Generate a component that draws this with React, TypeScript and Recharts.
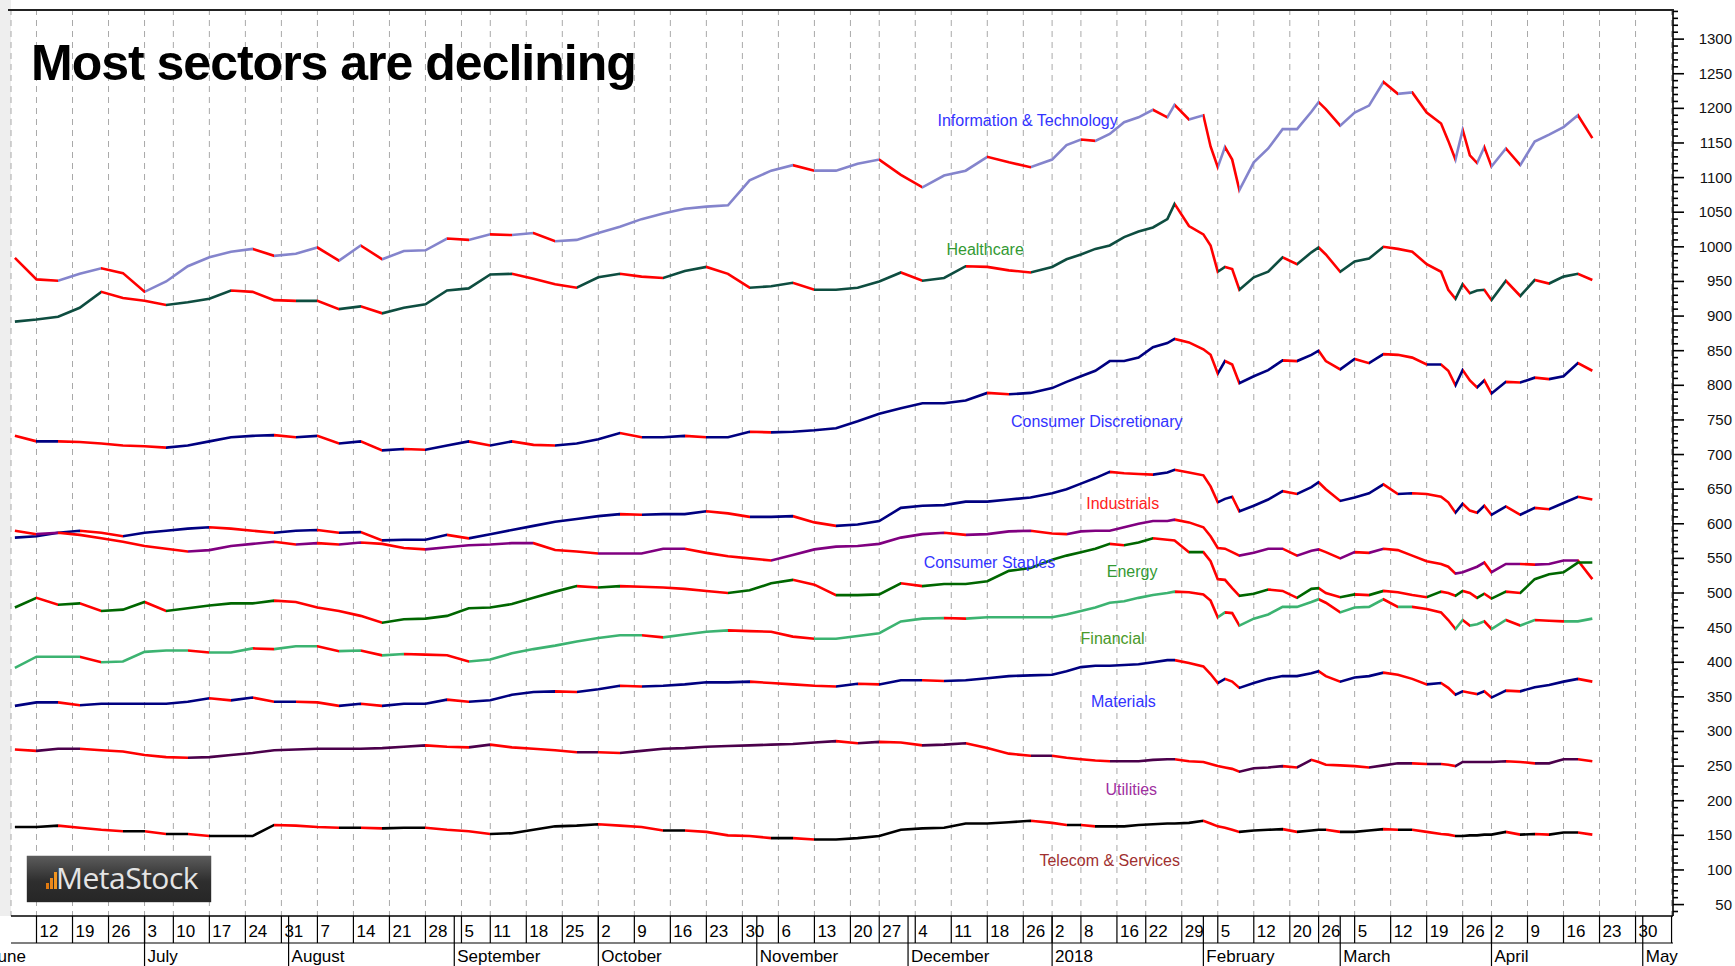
import React from "react";
import { LineChart, Line, XAxis, YAxis, CartesianGrid, ReferenceDot } from "recharts";

// trading-day index, 0 = Mon 12 Jun 2017
const days = [
  -3, 0, 3, 6, 9, 12, 15, 18, 21, 24, 27, 30, 33, 36, 39, 42, 45, 48, 51, 54, 57, 60, 63, 66, 69,
  72, 75, 78, 81, 84, 87, 90, 93, 96, 99, 102, 105, 108, 111, 114, 117, 120, 123, 126, 129, 132,
  135, 138, 141,
  143, 145, 147, 149, 151, 153, 155, 157, 158, 160, 162, 163, 164, 165, 166, 167, 169, 171, 173,
  175, 177, 178, 179, 181, 183, 185, 187, 189, 191, 193, 195, 196, 197, 198, 199, 200, 201, 202,
  204, 206, 208, 210, 212, 214, 216,
];

const infoTech = [
  984, 953, 951, 961, 969, 962, 935, 950, 972, 985, 993, 997, 987, 990, 999, 980, 1002, 982, 994,
  995, 1012, 1010, 1018, 1017, 1020, 1008, 1010, 1020, 1029, 1040, 1048, 1055, 1058, 1060, 1096,
  1110, 1118, 1110, 1110, 1120, 1126, 1104, 1086, 1103, 1110, 1130, 1122, 1115, 1126,
  1147, 1155, 1153, 1163, 1180, 1187, 1198, 1187, 1205, 1184, 1190, 1145, 1115, 1144, 1126, 1082,
  1122, 1142, 1170,
  1170, 1195, 1209, 1199, 1175, 1194, 1204, 1238, 1221, 1223, 1194, 1178, 1153, 1126, 1169, 1132,
  1121, 1144, 1116, 1142, 1118, 1152, 1162, 1173, 1190, 1157,
];
const healthcare = [
  892, 895, 899, 912, 935, 926, 922, 916, 920, 925, 937, 935, 923, 922, 922, 910, 914, 904, 912,
  917, 937, 940, 960, 961, 954, 946, 941, 956, 961, 957, 955, 965, 971, 961, 941, 943, 948, 938,
  938, 941, 950, 963, 951, 955, 972, 971, 966, 963, 971,
  982, 989, 997, 1002, 1014, 1022, 1028, 1040, 1062, 1030, 1018, 1002, 964, 971, 968, 938, 956,
  964, 985,
  975, 992, 999, 989, 964, 979, 983, 1000, 997, 993, 975, 964, 938, 925, 946, 933, 937, 938, 923,
  951, 929, 952, 947, 957, 961, 952,
];
const consDisc = [
  727, 719, 719, 718, 716, 713, 712, 710, 713, 719, 725, 727, 728, 725, 727, 716, 719, 706, 708,
  707, 713, 719, 713, 719, 714, 713, 716, 722, 731, 725, 725, 727, 725, 725, 733, 732, 733, 735,
  738, 748, 759, 767, 774, 774, 778, 789, 787, 789, 796,
  805, 813, 821, 835, 835, 840, 855, 861, 867, 862, 852, 844, 817, 835, 830, 803, 813, 822, 836,
  835, 844, 850, 835, 823, 838, 832, 845, 844, 840, 830, 830, 821, 800, 822, 807, 797, 807, 788,
  805, 804, 811, 809, 813, 832, 821,
];
const industrials = [
  580, 582, 587, 590, 587, 582, 587, 590, 593, 595, 593, 590, 587, 590, 591, 587, 588, 576, 577,
  577, 584, 579, 585, 591, 597, 603, 607, 611, 614, 613, 614, 614, 618, 615, 610, 610, 611, 602,
  597, 599, 604, 623, 626, 627, 632, 632, 635, 638, 644,
  650, 658, 666, 675, 673, 672, 671, 674, 678, 674, 670, 654, 631, 636, 639, 618, 626, 635, 647,
  643, 653, 660, 650, 633, 638, 644, 657, 643, 644, 643, 639, 631, 616, 629, 619, 616, 626, 613,
  625, 613, 623, 621, 630, 639, 635,
];
const consStaples = [
  590, 585, 587, 584, 579, 574, 568, 564, 560, 562, 568, 571, 574, 570, 572, 570, 573, 571, 565,
  563, 566, 569, 570, 572, 572, 562, 560, 557, 557, 557, 564, 564, 558, 553, 550, 547, 555, 563,
  567, 568, 571, 580, 585, 587, 584, 585, 589, 590, 586,
  585, 589, 590, 590, 595, 600, 604, 604, 606, 602, 595, 582, 565, 564, 559, 554, 558, 564, 564,
  554, 561, 563, 559, 550, 559, 558, 564, 562, 554, 546, 542, 538, 528, 530, 534, 538, 544, 530,
  542, 542, 541, 542, 547, 547, 520,
];
const energy = [
  479, 493, 483, 485, 474, 476, 487, 474, 478, 482, 485, 485, 489, 487, 479, 474, 467, 457, 462,
  463, 467, 478, 479, 484, 493, 502, 510, 508, 510, 509, 508, 506, 503, 500, 504, 514, 519, 512,
  497, 497, 498, 514, 510, 513, 513, 517, 532, 536, 548,
  554, 559, 564, 571, 569, 573, 579, 577, 576, 559, 559, 546, 520, 519, 507, 496, 499, 505, 503,
  493, 506, 507, 500, 494, 498, 497, 503, 501, 497, 494, 502, 500, 496, 503, 500, 493, 499, 492,
  502, 500, 520, 527, 530, 544, 544,
];
const financial = [
  392, 408, 408, 408, 400, 401, 415, 417, 417, 414, 414, 420, 419, 423, 423, 416, 417, 410, 412,
  411, 410, 401, 404, 413, 419, 424, 430, 435, 439, 439, 436, 440, 444, 446, 445, 444, 437, 434,
  434, 438, 442, 459, 463, 464, 463, 465, 465, 465, 465,
  469, 474, 479, 486, 488, 493, 497, 500, 502, 501, 498, 489, 465, 472, 471, 453, 463, 469, 480,
  480, 487, 491, 486, 472, 479, 480, 491, 480, 480, 477, 472, 461, 448, 461, 453, 455, 459, 448,
  461, 453, 461, 460, 459, 459, 463,
];
const materials = [
  337, 342, 342, 338, 340, 340, 340, 340, 343, 348, 345, 349, 343, 343, 342, 337, 340, 337, 340,
  340, 346, 343, 345, 353, 357, 358, 357, 361, 366, 365, 366, 368, 371, 371, 372, 370, 368, 366,
  365, 369, 368, 374, 374, 373, 374, 377, 380, 381, 382,
  387, 393, 395, 395, 396, 397, 400, 403, 403, 399, 394, 383, 370, 376, 372, 363, 370, 376, 380,
  380, 384, 387, 380, 372, 378, 380, 385, 382, 376, 368, 370, 363, 353, 358, 356, 354, 358, 349,
  359, 358, 364, 367, 372, 376, 372,
];
const utilities = [
  274, 272, 275, 275, 273, 271, 266, 263, 262, 263, 266, 269, 273, 274, 275, 275, 275, 276, 278,
  280, 278, 277, 281, 277, 275, 273, 270, 270, 269, 272, 275, 276, 278, 279, 280, 281, 282, 284,
  286, 283, 285, 284, 280, 281, 283, 276, 268, 265, 265,
  262, 260, 258, 257, 257, 257, 259, 260, 260, 257, 256, 253, 250, 248, 246, 242, 247, 248, 250,
  248, 259, 256, 252, 251, 250, 248, 251, 254, 254, 253, 253, 252, 250, 256, 256, 256, 256, 256,
  257, 256, 254, 254, 260, 260, 257,
];
const telecom = [
  162, 162, 164, 161, 158, 156, 156, 152, 152, 149, 149, 149, 165, 164, 162, 161, 161, 160, 161,
  161, 158, 156, 152, 153, 158, 163, 164, 166, 164, 162, 157, 157, 155, 150, 149, 146, 146, 144,
  144, 146, 149, 158, 160, 161, 167, 167, 169, 171, 168,
  165, 165, 163, 163, 163, 165, 166, 167, 167, 168, 171, 167, 163, 161, 158, 155, 157, 158, 159,
  155, 157, 158, 158, 155, 155, 157, 159, 158, 158, 155, 152, 151, 149, 149, 150, 150, 151, 151,
  155, 151, 152, 151, 154, 154, 151,
];

const weekTicks = [
  0, 5, 10, 15, 19, 24, 29, 34, 39, 44, 49, 54, 59, 63, 68, 73, 78, 83, 88, 93, 98, 103, 108, 113,
  117, 122, 127, 132, 137, 141, 145, 150, 154, 159, 164, 169, 174, 178, 183, 188, 193, 198, 202,
  207, 212, 217, 222, 227,
];
const weekLabels = [
  "12", "19", "26", "3", "10", "17", "24", "31", "7", "14", "21", "28", "5", "11", "18", "25", "2",
  "9", "16", "23", "30", "6", "13", "20", "27", "4", "11", "18", "26", "2", "8", "16", "22", "29",
  "5", "12", "20", "26", "5", "12", "19", "26", "2", "9", "16", "23", "30", "",
];
const monthTicks = [-7, 15, 35, 58, 78, 100, 121, 141, 162, 181, 202, 223];
const monthLabels = [
  "June", "July", "August", "September", "October", "November", "December", "2018", "February",
  "March", "April", "May",
];
const priceLabels = [
  50, 100, 150, 200, 250, 300, 350, 400, 450, 500, 550, 600, 650, 700, 750, 800, 850, 900, 950,
  1000, 1050, 1100, 1150, 1200, 1250, 1300,
];

const RED = "#ff0000";
const NARROW = '"Liberation Sans Narrow", "Arial Narrow", "Liberation Sans", Arial, sans-serif';
const SANS = '"Liberation Sans", Arial, sans-serif';

const SERIES = [
  { key: "infoTech", values: infoTech, color: "#8484cc" },
  { key: "healthcare", values: healthcare, color: "#0e4d40" },
  { key: "consDisc", values: consDisc, color: "#000080" },
  { key: "industrials", values: industrials, color: "#000080" },
  { key: "consStaples", values: consStaples, color: "#800080" },
  { key: "energy", values: energy, color: "#006600" },
  { key: "financial", values: financial, color: "#3cb371" },
  { key: "materials", values: materials, color: "#000080" },
  { key: "utilities", values: utilities, color: "#4b004b" },
  { key: "telecom", values: telecom, color: "#000000" },
];

// sector names written on the chart, placed in data space
const LABELS = [
  { text: "Information & Technology", day: 137.6, value: 1182, color: "#3333ff" },
  { text: "Healthcare", day: 131.7, value: 996, color: "#339933" },
  { text: "Consumer Discretionary", day: 147.2, value: 748, color: "#3333ff" },
  { text: "Industrials", day: 150.8, value: 629, color: "#ff2222" },
  { text: "Consumer Staples", day: 132.3, value: 544, color: "#3333ff" },
  { text: "Energy", day: 152.1, value: 531, color: "#339933" },
  { text: "Financial", day: 149.4, value: 434, color: "#4a9a2a" },
  { text: "Materials", day: 150.9, value: 344, color: "#3333ff" },
  { text: "Utilities", day: 152, value: 216, color: "#a030a0" },
  { text: "Telecom & Services", day: 149, value: 114, color: "#a03030" },
];

const chartData = days.map((day, k) => {
  const row: any = { day };
  SERIES.forEach((s) => {
    row[s.key] = s.values[k];
  });
  return row;
});

// minor ticks every 10 around the labelled ones
const priceTicks: number[] = [];
for (let v = 40; v <= 1340; v += 10) priceTicks.push(v);

// red where the sector fell since the previous point, own colour otherwise
function segmentStops(values: number[], color: string) {
  const d0 = days[0];
  const span = days[days.length - 1] - d0;
  const out: React.ReactNode[] = [];
  for (let k = 0; k < values.length - 1; k++) {
    const c = values[k + 1] < values[k] ? RED : color;
    out.push(<stop key={k + "a"} offset={(days[k] - d0) / span} stopColor={c} />);
    out.push(<stop key={k + "b"} offset={(days[k + 1] - d0) / span} stopColor={c} />);
  }
  return out;
}

function DayTick(props: any) {
  const { x, y, payload } = props;
  const idx = weekTicks.indexOf(payload.value);
  return (
    <g>
      <line x1={x} y1={y} x2={x} y2={y + 27} stroke="#000" strokeWidth={1.2} />
      <text x={x + 3} y={y + 21} fontSize={17} fontFamily={NARROW} fill="#000">
        {weekLabels[idx]}
      </text>
    </g>
  );
}

function MonthTick(props: any) {
  const { x, y, payload } = props;
  const idx = monthTicks.indexOf(payload.value);
  return (
    <g>
      <line x1={x} y1={y - 27} x2={x} y2={y + 23} stroke="#000" strokeWidth={1.2} />
      <text x={x + 3} y={y + 19} fontSize={17} fontFamily={NARROW} fill="#000">
        {monthLabels[idx]}
      </text>
    </g>
  );
}

function PriceTick(props: any) {
  const { x, y, payload } = props;
  const major = priceLabels.includes(payload.value);
  return (
    <g>
      <line x1={x} y1={y} x2={x + (major ? 11 : 5)} y2={y} stroke="#000" strokeWidth={1.6} />
      {major && (
        <text x={x + 59} y={y + 5} textAnchor="end" fontSize={15} fontFamily={SANS} fill="#111">
          {payload.value}
        </text>
      )}
    </g>
  );
}

export default function App() {
  return (
    <div style={{ position: "absolute", left: 0, top: 0, width: 1735, height: 966, background: "#fff", overflow: "hidden" }}>
      <div style={{ position: "absolute", left: 0, top: 0, width: 11, height: 916, background: "#eeeeee" }} />
      <LineChart
        width={1735}
        height={966}
        data={chartData}
        margin={{ top: 9, right: 0, bottom: 0, left: 11 }}
      >
        <defs>
          {SERIES.map((s) => (
            <linearGradient key={s.key} id={"seg-" + s.key} x1="0" y1="0" x2="1" y2="0">
              {segmentStops(s.values, s.color)}
            </linearGradient>
          ))}
        </defs>
        <CartesianGrid vertical horizontal={false} stroke="#a9a9a9" strokeDasharray="6 5" />
        <XAxis
          dataKey="day"
          type="number"
          domain={[-3.54, 227.2]}
          allowDataOverflow
          ticks={weekTicks}
          interval={0}
          height={27}
          tickSize={0}
          tickMargin={0}
          tickLine={false}
          axisLine={{ stroke: "#000", strokeWidth: 1.5 }}
          tick={<DayTick />}
        />
        <XAxis
          xAxisId="month"
          dataKey="day"
          type="number"
          domain={[-3.54, 227.2]}
          allowDataOverflow
          ticks={monthTicks}
          interval={0}
          height={23}
          tickSize={0}
          tickMargin={0}
          tickLine={false}
          axisLine={{ stroke: "#000", strokeWidth: 1.2 }}
          tick={<MonthTick />}
        />
        <YAxis
          orientation="right"
          type="number"
          domain={[33.5, 1343.5]}
          allowDataOverflow
          ticks={priceTicks}
          interval={0}
          width={62}
          tickSize={0}
          tickMargin={0}
          tickLine={false}
          axisLine={{ stroke: "#000", strokeWidth: 1.6 }}
          tick={<PriceTick />}
        />
        {SERIES.map((s) => (
          <Line
            key={s.key}
            dataKey={s.key}
            type="linear"
            stroke={"url(#seg-" + s.key + ")"}
            strokeWidth={2.6}
            dot={false}
            activeDot={false}
            isAnimationActive={false}
          />
        ))}
        {LABELS.map((l) => (
          <ReferenceDot
            key={l.text}
            x={l.day}
            y={l.value}
            r={0}
            shape={(p: any) => (
              <text
                x={p.cx}
                y={p.cy}
                textAnchor="middle"
                dominantBaseline="central"
                fontSize={16}
                fontFamily={SANS}
                fill={l.color}
              >
                {l.text}
              </text>
            )}
          />
        ))}
      </LineChart>
      <div style={{ position: "absolute", left: 8, top: 9, width: 1665, height: 0, borderTop: "2px solid #222" }} />
      <div
        style={{
          position: "absolute",
          left: 31,
          top: 38,
          fontFamily: SANS,
          fontWeight: 700,
          fontSize: 50,
          lineHeight: "50px",
          letterSpacing: -1,
          color: "#000",
          whiteSpace: "nowrap",
        }}
      >
        Most sectors are declining
      </div>
      <div
        style={{
          position: "absolute",
          left: 27,
          top: 856,
          width: 184,
          height: 46,
          background: "linear-gradient(#5c5c5c, #2e2e2e 55%, #262626)",
          boxShadow: "0 0 1px #111",
        }}
      >
        <div style={{ position: "absolute", left: 19, top: 27, width: 3, height: 6, background: "#e07a10" }} />
        <div style={{ position: "absolute", left: 23, top: 22, width: 3, height: 11, background: "#e8871a" }} />
        <div style={{ position: "absolute", left: 27, top: 16, width: 3, height: 17, background: "#f09520" }} />
        <div
          style={{
            position: "absolute",
            left: 29,
            top: 4,
            fontFamily: '"Open Sans", sans-serif',
            fontSize: 30,
            lineHeight: "36px",
            color: "#e4e4e4",
            letterSpacing: -0.5,
          }}
        >
          MetaStock
        </div>
      </div>
    </div>
  );
}
